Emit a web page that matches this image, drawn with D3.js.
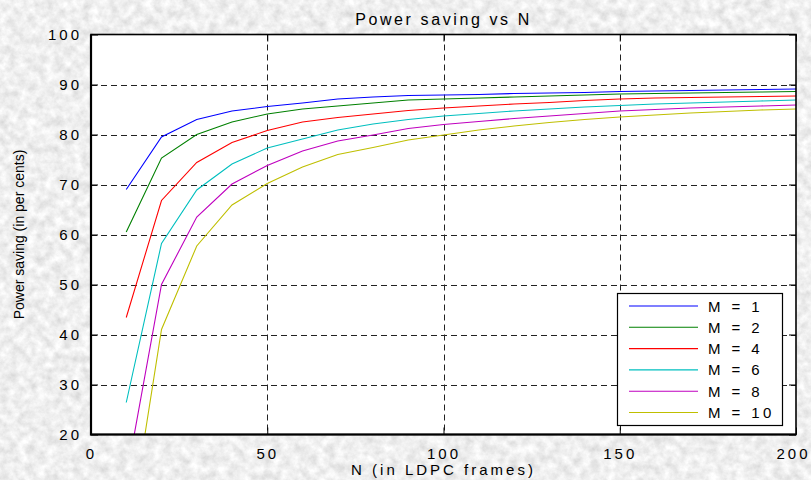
<!DOCTYPE html>
<html>
<head>
<meta charset="utf-8">
<script src="https://cdn.jsdelivr.net/npm/d3@7/dist/d3.min.js"></script>
<style>
	html, body { margin: 0; padding: 0; background: #dcdcdc; }
	svg { display: block; }
	text { font-family: "Liberation Sans", Arial, sans-serif; fill: #000; }
</style>
</head>
<body>
<div id="chart"></div>
<script>
// data
const nValues = [10, 20, 30, 40, 50, 60, 70, 80, 90, 100, 110, 120, 130, 140, 150, 160, 170, 180, 190, 200];
const seriesNames = ['M = 1', 'M = 2', 'M = 4', 'M = 6', 'M = 8', 'M = 10'];
const m1 = [69, 79.5, 83, 84.7, 85.6, 86.3, 87.1, 87.5, 87.8, 87.9, 88.0, 88.2, 88.3, 88.4, 88.6, 88.7, 88.8, 88.9, 89.0, 89.1];
const m2 = [60.5, 75.3, 80, 82.5, 84.1, 85.1, 85.7, 86.3, 86.9, 87.1, 87.3, 87.5, 87.7, 87.9, 88.1, 88.2, 88.3, 88.4, 88.5, 88.6];
const m4 = [43.4, 66.8, 74.4, 78.4, 80.8, 82.5, 83.4, 84.1, 84.8, 85.3, 85.7, 86.1, 86.4, 86.8, 87.1, 87.3, 87.4, 87.5, 87.6, 87.7];
const m6 = [26.4, 58.2, 68.9, 74.1, 77.3, 79.1, 80.9, 82.1, 83.0, 83.7, 84.2, 84.7, 85.1, 85.5, 85.8, 86.1, 86.3, 86.5, 86.7, 86.9];
const m8 = [11.2, 50, 63.5, 70.1, 73.8, 76.7, 78.7, 79.9, 81.2, 82, 82.6, 83.2, 83.7, 84.2, 84.7, 85.0, 85.3, 85.5, 85.7, 85.9];
const m10 = [-3.7, 41, 57.7, 65.9, 70.2, 73.5, 76, 77.4, 78.9, 79.9, 80.9, 81.7, 82.4, 83, 83.5, 83.9, 84.3, 84.6, 84.9, 85.1];
const xTicks = [0, 50, 100, 150, 200];
const yTicks = [20, 30, 40, 50, 60, 70, 80, 90, 100];

const allSeries = [m1, m2, m4, m6, m8, m10];
const colors = ['#0000ff', '#008000', '#ff0000', '#00bfbf', '#bf00bf', '#bfbf00'];

const W = 811, H = 480;
const plot = { left: 91, right: 796, top: 34.5, bottom: 434.5 };

const svg = d3.select('#chart').append('svg')
	.attr('width', W)
	.attr('height', H)
	.attr('viewBox', `0 0 ${W} ${H}`);

// grey granite-like backdrop
const defs = svg.append('defs');
const noise = defs.append('filter')
	.attr('id', 'granite')
	.attr('x', 0).attr('y', 0).attr('width', '100%').attr('height', '100%');
noise.append('feTurbulence')
	.attr('type', 'fractalNoise')
	.attr('baseFrequency', 0.11)
	.attr('numOctaves', 4)
	.attr('seed', 7);
noise.append('feColorMatrix')
	.attr('type', 'matrix')
	.attr('values', '0.45 0 0 0 0.64  0.45 0 0 0 0.64  0.45 0 0 0 0.64  0 0 0 0 1');

svg.append('rect')
	.attr('width', W).attr('height', H)
	.attr('filter', 'url(#granite)');

defs.append('clipPath').attr('id', 'plotClip')
	.append('rect')
	.attr('x', plot.left).attr('y', plot.top)
	.attr('width', plot.right - plot.left).attr('height', plot.bottom - plot.top);

// scales
const x = d3.scaleLinear().domain([0, 200]).range([plot.left, plot.right]);
const y = d3.scaleLinear().domain([20, 100]).range([plot.bottom, plot.top]);

// plot area
svg.append('rect')
	.attr('x', plot.left).attr('y', plot.top)
	.attr('width', plot.right - plot.left).attr('height', plot.bottom - plot.top)
	.attr('fill', '#fff');

// grid
const grid = svg.append('g').attr('class', 'grid')
	.attr('stroke', '#222')
	.attr('stroke-width', 1)
	.attr('stroke-dasharray', '6,4');
grid.selectAll('.gx')
	.data(xTicks.slice(1, -1))
	.enter().append('line')
	.attr('x1', d => Math.round(x(d)) + 0.5).attr('x2', d => Math.round(x(d)) + 0.5)
	.attr('y1', plot.top).attr('y2', plot.bottom);
grid.selectAll('.gy')
	.data(yTicks.slice(1, -1))
	.enter().append('line')
	.attr('y1', d => Math.round(y(d)) + 0.5).attr('y2', d => Math.round(y(d)) + 0.5)
	.attr('x1', plot.left).attr('x2', plot.right);

// inner tick marks (matlab style)
const customXAxis = g => {
	g.call(d3.axisBottom(x).tickValues(xTicks).tickSize(-7).tickPadding(14).tickFormat(d3.format('d')));
	g.select('.domain').remove();
	g.selectAll('.tick line').attr('stroke', '#000');
	g.selectAll('.tick text')
		.attr('font-size', 15)
		.attr('letter-spacing', 3)
		.attr('dx', (d, i) => i === xTicks.length - 1 ? -3 : 0)
		.attr('font-family', '"Liberation Sans", Arial, sans-serif');
};
const customYAxis = g => {
	g.call(d3.axisLeft(y).tickValues(yTicks).tickSize(-7).tickPadding(12).tickFormat(d3.format('d')));
	g.select('.domain').remove();
	g.selectAll('.tick line').attr('stroke', '#000');
	g.selectAll('.tick text')
		.attr('font-size', 15)
		.attr('letter-spacing', 3)
		.attr('dx', 3)
		.attr('font-family', '"Liberation Sans", Arial, sans-serif');
};
svg.append('g').attr('transform', `translate(0,${plot.bottom})`).call(customXAxis);
svg.append('g').attr('transform', `translate(${plot.left},0)`).call(customYAxis);
svg.append('g').attr('transform', `translate(0,${plot.top})`)
	.call(d3.axisTop(x).tickValues(xTicks).tickSize(-7).tickFormat(''))
	.call(g => g.select('.domain').remove());
svg.append('g').attr('transform', `translate(${plot.right},0)`)
	.call(d3.axisRight(y).tickValues(yTicks).tickSize(-7).tickFormat(''))
	.call(g => g.select('.domain').remove());

// series lines
const line = d3.line()
	.curve(d3.curveLinear)
	.x((d, i) => x(nValues[i]))
	.y(d => y(d));

svg.append('g')
	.attr('clip-path', 'url(#plotClip)')
	.selectAll('path')
	.data(allSeries)
	.enter().append('path')
	.attr('d', line)
	.attr('fill', 'none')
	.attr('stroke', (d, i) => colors[i])
	.attr('stroke-width', 1.1);

// frame
svg.append('rect')
	.attr('x', plot.left).attr('y', plot.top)
	.attr('width', plot.right - plot.left).attr('height', plot.bottom - plot.top)
	.attr('fill', 'none')
	.attr('stroke', '#000')
	.attr('stroke-width', 1.6);
svg.append('path')
	.attr('d', `M${plot.left},${plot.top}V${plot.bottom}H${plot.right}`)
	.attr('fill', 'none')
	.attr('stroke', '#000')
	.attr('stroke-width', 2.2);

// titles
svg.append('text')
	.attr('x', (plot.left + plot.right) / 2)
	.attr('y', 25)
	.attr('text-anchor', 'middle')
	.attr('font-size', 16)
	.attr('letter-spacing', 2.6)
	.text('Power saving vs N');

svg.append('text')
	.attr('x', (plot.left + plot.right) / 2)
	.attr('y', 475)
	.attr('text-anchor', 'middle')
	.attr('font-size', 15)
	.attr('letter-spacing', 3)
	.text('N (in LDPC frames)');

svg.append('text')
	.attr('transform', `translate(24,${(plot.top + plot.bottom) / 2}) rotate(-90)`)
	.attr('text-anchor', 'middle')
	.attr('font-size', 14)
	.text('Power saving (in per cents)');

// legend
const legend = svg.append('g').attr('class', 'legend');
legend.append('rect')
	.attr('x', 617.5).attr('y', 293.5)
	.attr('width', 165).attr('height', 132)
	.attr('fill', '#fff')
	.attr('stroke', '#000')
	.attr('stroke-width', 1.2);
const rows = legend.selectAll('.row')
	.data(seriesNames)
	.enter().append('g')
	.attr('transform', (d, i) => `translate(0,${306 + i * 21.3})`);
rows.append('line')
	.attr('x1', 629).attr('x2', 698)
	.attr('stroke', (d, i) => colors[i])
	.attr('stroke-width', 1.1);
rows.append('text')
	.attr('x', 708)
	.attr('y', 5.5)
	.attr('font-size', 15)
	.attr('letter-spacing', 3.4)
	.text(d => d);
</script>
</body>
</html>
